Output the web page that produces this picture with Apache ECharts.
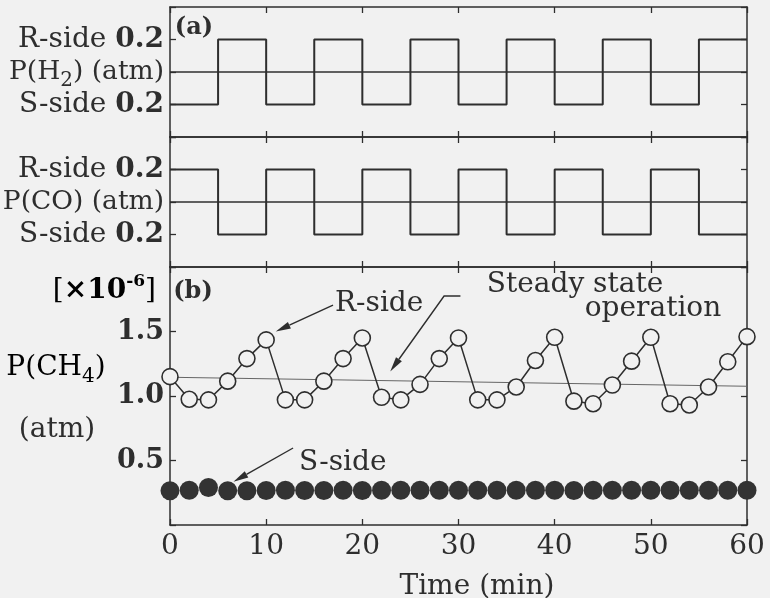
<!DOCTYPE html>
<html><head><meta charset="utf-8">
<script src="https://cdn.jsdelivr.net/npm/echarts@6/dist/echarts.min.js"></script>
<style>html,body{margin:0;padding:0;background:#f1f1f1}#c{width:770px;height:598px}</style>
</head><body><div id="c"></div>
<script>
// ---------- data ----------
const switchTimes = [0, 5, 10, 15, 20, 25, 30, 35, 40, 45, 50, 55, 60];
const h2Side = [-1, 1, -1, 1, -1, 1, -1, 1, -1, 1, -1, 1, 1];   // 1 = R-side, -1 = S-side
const coSide = [1, -1, 1, -1, 1, -1, 1, -1, 1, -1, 1, -1, -1];
const sampleTimes = [0,2,4,6,8,10,12,14,16,18,20,22,24,26,28,30,32,34,36,38,40,42,44,46,48,50,52,54,56,58,60];
const ch4RSide = [1.15,0.975,0.97,1.115,1.29,1.435,0.97,0.97,1.115,1.29,1.45,0.99,0.97,1.09,1.29,1.45,0.97,0.97,1.07,1.275,1.455,0.96,0.94,1.085,1.27,1.455,0.94,0.93,1.07,1.265,1.46];
const ch4SSide = [0.265,0.27,0.29,0.265,0.265,0.268,0.27,0.268,0.268,0.27,0.268,0.27,0.27,0.27,0.27,0.27,0.27,0.27,0.27,0.27,0.27,0.268,0.27,0.27,0.27,0.27,0.27,0.27,0.27,0.27,0.27];
const steadyTimes = [0, 60];
const steadyLevel = [1.145, 1.075];
const h2TickLabels = {'-1': '{t|S-side }{n|0.2}', '0': '{m|P(H}{s|2}{m|) (atm)}', '1': '{t|R-side }{n|0.2}'};
const coTickLabels = {'-1': '{t|S-side }{n|0.2}', '0': '{m|P(CO) (atm)}', '1': '{t|R-side }{n|0.2}'};
const ch4TickLabels = {'0.5': '0.5', '1': '1.0', '1.5': '1.5'};

// ---------- annotation anchors (data space of panel b) ----------
const annotationArrows = [
  [[16.95, 1.705], [11.0, 1.50]],                 // R-side
  [[30.2, 1.775], [28.5, 1.775], [22.9, 1.19]],  // Steady state operation
  [[12.8, 0.597], [6.6, 0.335]]                   // S-side
];

// ---------- styling ----------
const ink = '#2e2e2e';
const bg = '#f1f1f1';
const FF = "'DejaVu Serif', serif";
const richSide = {
  t: {fontFamily: FF, fontSize: 28, color: ink, lineHeight: 38},
  m: {fontFamily: FF, fontSize: 26.5, color: ink, lineHeight: 38},
  n: {fontFamily: FF, fontSize: 28, color: ink, fontWeight: 'bold', lineHeight: 38},
  s: {fontFamily: FF, fontSize: 20, color: ink, lineHeight: 20, verticalAlign: 'bottom'}
};

const chart = echarts.init(document.getElementById('c'), null, {renderer: 'canvas'});

function xAx(gi, pos, showLabels) {
  return {
    type: 'value', gridIndex: gi, position: pos, min: 0, max: 60, interval: 10,
    axisLine: {show: true, onZero: false, lineStyle: {color: ink, width: 1.5}},
    axisTick: {show: true, inside: true, length: 6, lineStyle: {color: ink, width: 1.3}},
    axisLabel: {show: showLabels, fontFamily: FF, fontSize: 28, color: ink, margin: 8},
    splitLine: {show: false}
  };
}
function yAxA(gi, pos, labels) {
  return {
    type: 'value', gridIndex: gi, position: pos, min: -2, max: 2, interval: 1,
    axisLine: {show: true, onZero: false, lineStyle: {color: ink, width: 1.5}},
    axisTick: {show: true, inside: true, length: 6, lineStyle: {color: ink, width: 1.3}},
    axisLabel: labels ? {show: true, margin: 6, formatter: v => labels[String(v)] || '', rich: richSide} : {show: false},
    splitLine: {show: false}
  };
}
function yAxB(pos, labels) {
  return {
    type: 'value', gridIndex: 2, position: pos, min: 0, max: 2, interval: 0.5,
    axisLine: {show: true, onZero: false, lineStyle: {color: ink, width: 1.5}},
    axisTick: {show: true, inside: true, length: 6, lineStyle: {color: ink, width: 1.3}},
    axisLabel: labels ? {show: true, margin: 6, fontFamily: FF, fontSize: 27, fontWeight: 'bold', color: ink,
      formatter: v => labels[String(v)] || ''} : {show: false},
    splitLine: {show: false}
  };
}

const midLine = {
  silent: true, symbol: 'none', label: {show: false},
  lineStyle: {color: ink, width: 1.5, type: 'solid'},
  data: [{yAxis: 0}], animation: false
};

const gridBase = {left: 170, right: 23, containLabel: false, outerBoundsMode: 'none'};
const option = {
  backgroundColor: bg,
  animation: false,
  grid: [
    Object.assign({top: 7, height: 130}, gridBase),
    Object.assign({top: 137, height: 130}, gridBase),
    Object.assign({top: 267, height: 258}, gridBase)
  ],
  xAxis: [xAx(0, 'bottom', false), xAx(0, 'top', false), xAx(1, 'bottom', false), xAx(1, 'top', false), xAx(2, 'bottom', true), xAx(2, 'top', false)],
  yAxis: [yAxA(0, 'left', h2TickLabels), yAxA(0, 'right', null), yAxA(1, 'left', coTickLabels), yAxA(1, 'right', null), yAxB('left', ch4TickLabels), yAxB('right', null)],
  series: [
    {type: 'line', xAxisIndex: 0, yAxisIndex: 0, step: 'end', symbol: 'none',
     data: switchTimes.map((t, i) => [t, h2Side[i]]), lineStyle: {color: ink, width: 2}, markLine: midLine},
    {type: 'line', xAxisIndex: 2, yAxisIndex: 2, step: 'end', symbol: 'none',
     data: switchTimes.map((t, i) => [t, coSide[i]]), lineStyle: {color: ink, width: 2}, markLine: midLine},
    {type: 'line', xAxisIndex: 4, yAxisIndex: 4, symbol: 'none', z: 1,
     data: steadyTimes.map((t, i) => [t, steadyLevel[i]]), lineStyle: {color: '#666', width: 1.1}},
    {type: 'line', xAxisIndex: 4, yAxisIndex: 4, symbol: 'circle', symbolSize: 16, showAllSymbol: true, z: 3,
     data: sampleTimes.map((t, i) => [t, ch4RSide[i]]),
     lineStyle: {color: ink, width: 1.5},
     itemStyle: {color: bg, borderColor: ink, borderWidth: 1.6}},
    {type: 'scatter', xAxisIndex: 4, yAxisIndex: 4, symbol: 'circle', symbolSize: 19, z: 3,
     data: sampleTimes.map((t, i) => [t, ch4SSide[i]]),
     itemStyle: {color: '#333', opacity: 1}},
    {type: 'custom', xAxisIndex: 4, yAxisIndex: 4, z: 4, clip: false,
     data: annotationArrows.map(a => a[0]),
     renderItem: (params, api) => {
       const pts = annotationArrows[params.dataIndex].map(p => api.coord(p));
       const n = pts.length, tip = pts[n - 1], prev = pts[n - 2];
       const ang = Math.atan2(tip[1] - prev[1], tip[0] - prev[0]);
       const L = 15, W = 3.6;
       const bx = tip[0] - L * Math.cos(ang), by = tip[1] - L * Math.sin(ang);
       const p1 = [bx + W * Math.sin(ang), by - W * Math.cos(ang)];
       const p2 = [bx - W * Math.sin(ang), by + W * Math.cos(ang)];
       return {type: 'group', children: [
         {type: 'polyline', shape: {points: pts.slice(0, n - 1).concat([[bx, by]])}, style: {stroke: ink, lineWidth: 1.4, fill: null}},
         {type: 'polygon', shape: {points: [tip, p1, p2]}, style: {fill: ink}}
       ]};
     }}
  ],
  graphic: [
    {type: 'text', x: 194, y: 28, style: {text: '(a)', font: "bold 24px 'DejaVu Serif'", fill: ink, align: 'center', verticalAlign: 'middle'}},
    {type: 'text', x: 193, y: 292, style: {text: '(b)', font: "bold 24px 'DejaVu Serif'", fill: ink, align: 'center', verticalAlign: 'middle'}},
    {type: 'text', x: 156, y: 291, style: {
      text: '{t|[}{b|×10}{p|-6}{t|]}', align: 'right', verticalAlign: 'middle',
      rich: {
        t: {fontFamily: FF, fontSize: 28, color: ink, lineHeight: 36},
        b: {fontFamily: FF, fontSize: 28, color: ink, fontWeight: 'bold', lineHeight: 36},
        p: {fontFamily: FF, fontSize: 17, color: ink, fontWeight: 'bold', lineHeight: 17, verticalAlign: 'top'}
      }}},
    {type: 'text', x: 56, y: 368, style: {
      text: '{t|P(CH}{s|4}{t|)}', align: 'center', verticalAlign: 'middle', rich: richSide}},
    {type: 'text', x: 57, y: 430, style: {text: '(atm)', font: "28px 'DejaVu Serif'", fill: ink, align: 'center', verticalAlign: 'middle'}},
    {type: 'text', x: 335, y: 304, style: {text: 'R-side', font: "28px 'DejaVu Serif'", fill: ink, align: 'left', verticalAlign: 'middle'}},
    {type: 'text', x: 299, y: 463, style: {text: 'S-side', font: "28px 'DejaVu Serif'", fill: ink, align: 'left', verticalAlign: 'middle'}},
    {type: 'text', x: 575, y: 285, style: {text: 'Steady state', font: "28px 'DejaVu Serif'", fill: ink, align: 'center', verticalAlign: 'middle'}},
    {type: 'text', x: 653, y: 309, style: {text: 'operation', font: "28px 'DejaVu Serif'", fill: ink, align: 'center', verticalAlign: 'middle'}},
    {type: 'text', x: 477, y: 587, style: {text: 'Time (min)', font: "28px 'DejaVu Serif'", fill: ink, align: 'center', verticalAlign: 'middle'}}
  ]
};
chart.setOption(option);
</script>
</body></html>
